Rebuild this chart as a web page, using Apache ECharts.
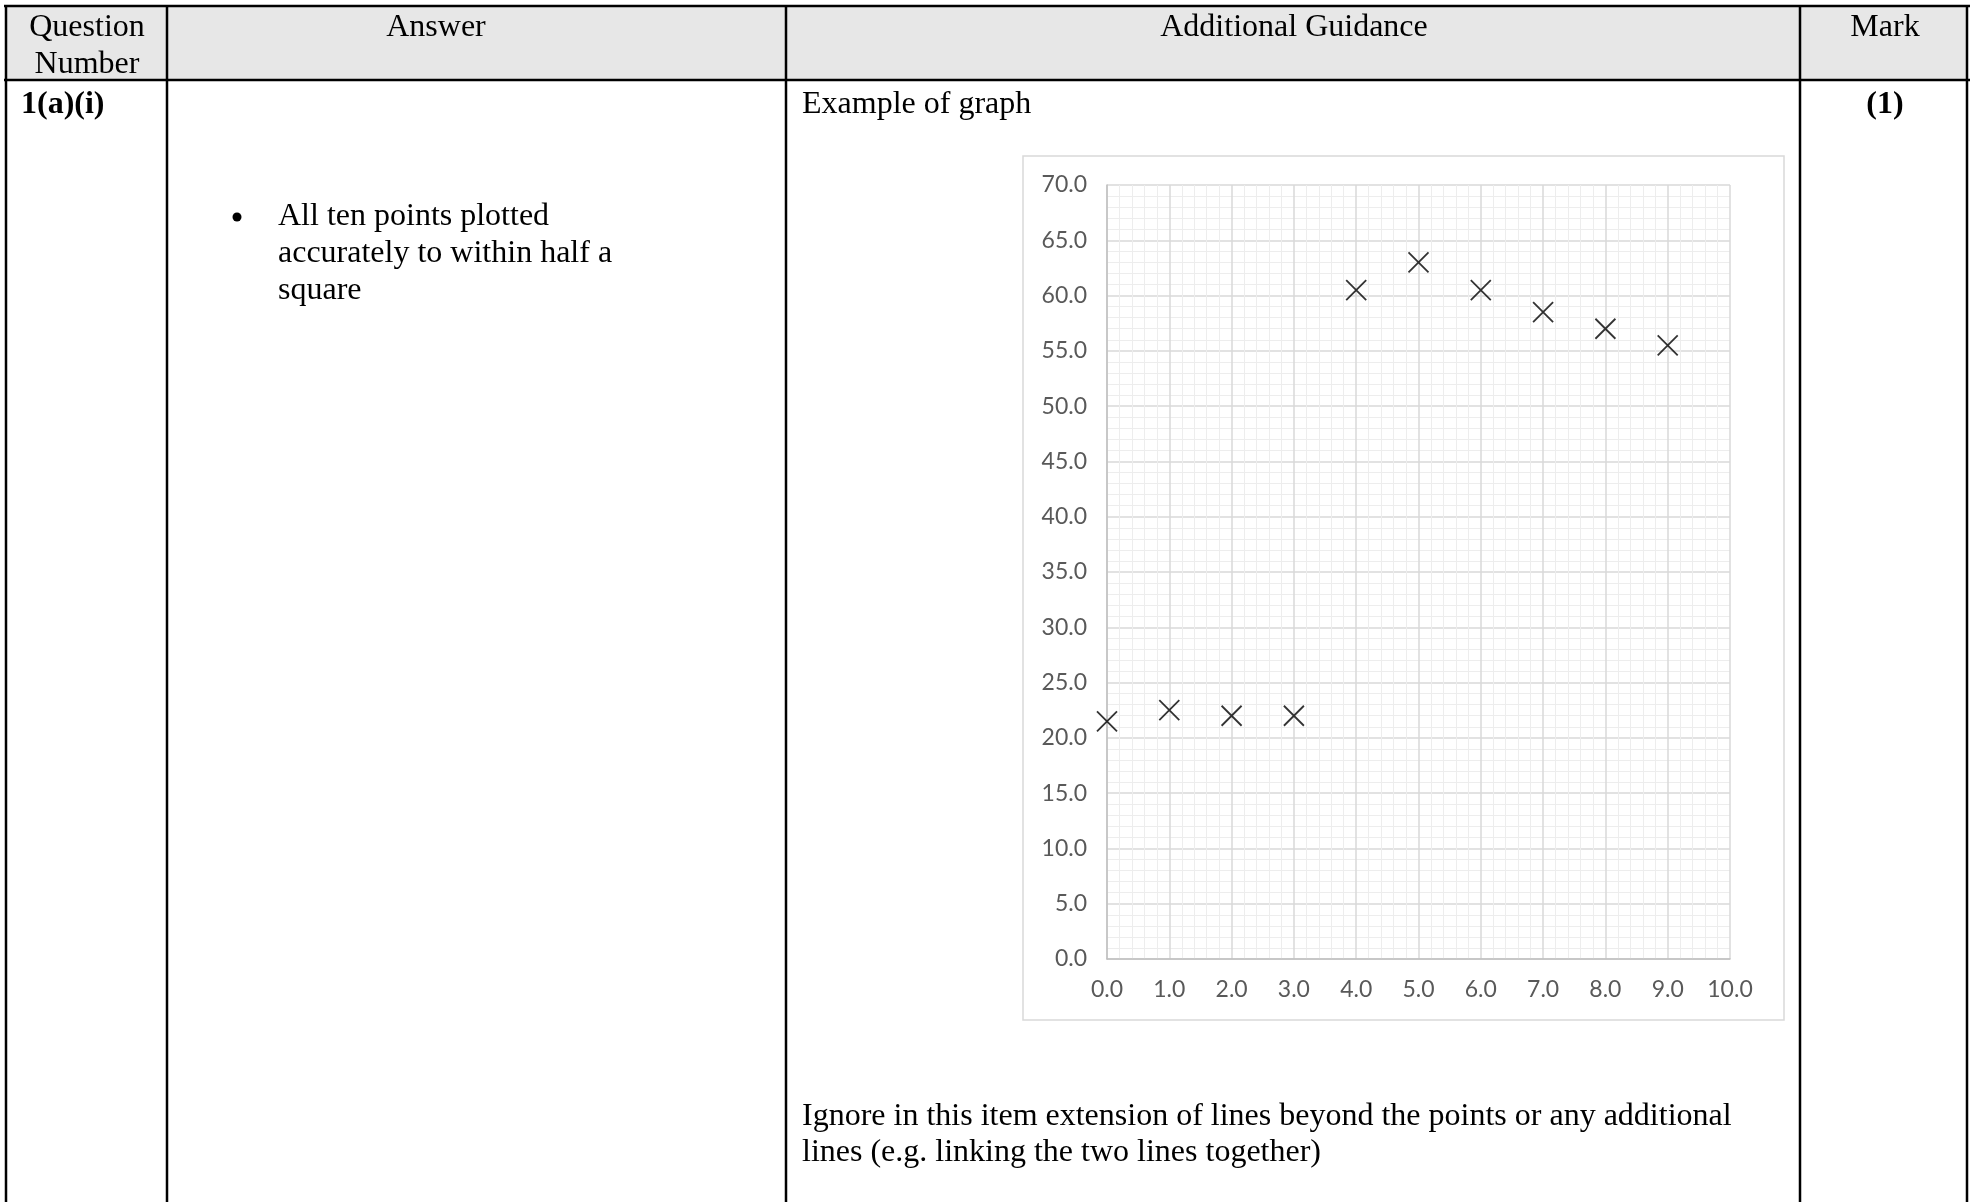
<!DOCTYPE html>
<html>
<head>
<meta charset="utf-8">
<script src="https://cdn.jsdelivr.net/npm/echarts@6/dist/echarts.min.js"></script>
<style>html,body{margin:0;padding:0;background:#fff;}#c{width:1970px;height:1202px;}</style>
</head>
<body>
<div id="c"></div>
<script>
// Data
const xValues = [0, 1, 2, 3, 4, 5, 6, 7, 8, 9];
const yValues = [21.5, 22.5, 22.0, 22.0, 60.5, 63.0, 60.5, 58.5, 57.0, 55.5];
const headers = ['Question\nNumber', 'Answer', 'Additional Guidance', 'Mark'];
const answerLines = ['All ten points plotted', 'accurately to within half a', 'square'];
const guidanceLines = ['Ignore in this item extension of lines beyond the points or any additional', 'lines (e.g. linking the two lines together)'];

const serif = '"Liberation Serif", "Times New Roman", serif';
const sans = 'Lato, "Open Sans", sans-serif';
const chart = echarts.init(document.getElementById('c'), null, {renderer: 'canvas'});

const colX = [6, 167, 786, 1800, 1967];
const lineCol = '#000';
const FS = 32;
const g = [];
// header background
g.push({type: 'rect', shape: {x: 6, y: 6, width: 1961, height: 74}, style: {fill: '#e7e7e7'}, z: 1});
// chart frame
g.push({type: 'rect', shape: {x: 1023, y: 156, width: 761, height: 864}, style: {fill: 'none', stroke: '#d9d9d9', lineWidth: 1.5}, z: 1});
// table lines
g.push({type: 'line', shape: {x1: 4, y1: 6, x2: 1970, y2: 6}, style: {stroke: lineCol, lineWidth: 2.5}, z: 5});
g.push({type: 'line', shape: {x1: 4, y1: 80, x2: 1970, y2: 80}, style: {stroke: lineCol, lineWidth: 2.5}, z: 5});
colX.forEach(x => g.push({type: 'line', shape: {x1: x, y1: 5, x2: x, y2: 1202}, style: {stroke: lineCol, lineWidth: 2.5}, z: 5}));
// header texts
const hCenters = [87, 436, 1294, 1885];
headers.forEach((h, i) => {
  h.split('\n').forEach((t, j) => {
    g.push({type: 'text', x: hCenters[i], y: 28 + j * 37, z: 6,
      style: {text: t, font: FS + 'px ' + serif, fill: '#000', align: 'center', verticalAlign: 'middle', textAlign: 'center', textVerticalAlign: 'middle'}});
  });
});
g.push({type: 'text', x: 21, y: 105, z: 6, style: {text: '1(a)(i)', font: 'bold ' + FS + 'px ' + serif, fill: '#000', align: 'left', verticalAlign: 'middle', textAlign: 'left', textVerticalAlign: 'middle'}});
g.push({type: 'text', x: 1885, y: 105, z: 6, style: {text: '(1)', font: 'bold ' + FS + 'px ' + serif, fill: '#000', align: 'center', verticalAlign: 'middle', textAlign: 'center', textVerticalAlign: 'middle'}});
g.push({type: 'text', x: 802, y: 105, z: 6, style: {text: 'Example of graph', font: FS + 'px ' + serif, fill: '#000', align: 'left', verticalAlign: 'middle', textAlign: 'left', textVerticalAlign: 'middle'}});
g.push({type: 'circle', shape: {cx: 237, cy: 217, r: 4.5}, style: {fill: '#000'}, z: 6});
answerLines.forEach((t, j) => {
  g.push({type: 'text', x: 278, y: 217 + j * 37, z: 6, style: {text: t, font: FS + 'px ' + serif, fill: '#000', align: 'left', verticalAlign: 'middle', textAlign: 'left', textVerticalAlign: 'middle'}});
});
guidanceLines.forEach((t, j) => {
  g.push({type: 'text', x: 802, y: 1117 + j * 36, z: 6, style: {text: t, font: FS + 'px ' + serif, fill: '#000', align: 'left', verticalAlign: 'middle', textAlign: 'left', textVerticalAlign: 'middle'}});
});

const axisLabelStyle = {color: '#595959', fontFamily: sans, fontSize: 23, formatter: v => Number(v).toFixed(1)};

chart.setOption({
  backgroundColor: '#fff',
  animation: false,
  graphic: g,
  grid: {left: 1107, right: 240, top: 185, bottom: 243, containLabel: false},
  xAxis: {
    type: 'value', min: 0, max: 10, interval: 1,
    axisLine: {show: true, lineStyle: {color: '#bfbfbf', width: 1.5}},
    axisTick: {show: false},
    axisLabel: Object.assign({margin: 19}, axisLabelStyle),
    splitLine: {show: true, lineStyle: {color: '#d9d9d9', width: 1.5}},
    minorTick: {show: false, splitNumber: 5},
    minorSplitLine: {show: true, lineStyle: {color: '#ededed', width: 1}}
  },
  yAxis: {
    type: 'value', min: 0, max: 70, interval: 5,
    axisLine: {show: true, lineStyle: {color: '#bfbfbf', width: 1.5}},
    axisTick: {show: false},
    axisLabel: Object.assign({margin: 20}, axisLabelStyle),
    splitLine: {show: true, lineStyle: {color: '#d9d9d9', width: 1.5}},
    minorTick: {show: false, splitNumber: 5},
    minorSplitLine: {show: true, lineStyle: {color: '#ededed', width: 1}}
  },
  series: [{
    type: 'scatter',
    data: xValues.map((x, i) => [x, yValues[i]]),
    symbol: 'path://M0,0L10,10M10,0L0,10',
    symbolSize: [20, 20],
    itemStyle: {color: 'none', borderColor: '#000', borderWidth: 1.8},
    z: 10
  }]
});
</script>
</body>
</html>
